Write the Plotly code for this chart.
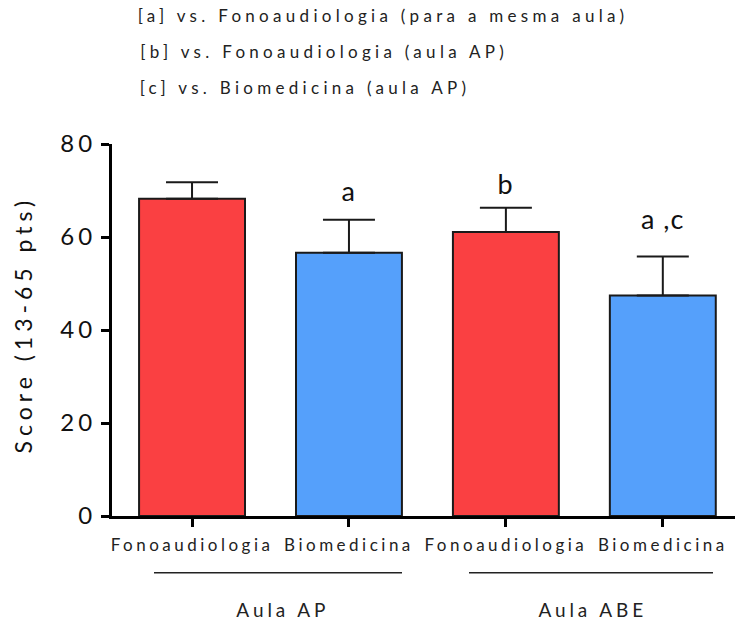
import json
import plotly.graph_objects as go

categories = ["Fonoaudiologia", "Biomedicina", "Fonoaudiologia", "Biomedicina"]
groups = ["Aula AP", "Aula ABE"]
means = [68.2, 56.6, 61.1, 47.4]
errors = [3.6, 7.1, 5.2, 8.4]
letters = ["", "a", "b", "a ,c"]
letter_y = [None, 70.0, 71.4, 63.9]
colors = ["#FA4042", "#55A0FB", "#FA4042", "#55A0FB"]
legend_lines = [
    "[a] vs. Fonoaudiologia (para a mesma aula)",
    "[b] vs. Fonoaudiologia (aula AP)",
    "[c] vs. Biomedicina (aula AP)",
]
y_title = "Score (13-65 pts)"
yticks = [0, 20, 40, 60, 80]

FONT = "Lato"
xs = list(range(len(categories)))

W, H = 735, 621
PL, PR, PT, PB = 112, 735, 144, 516   # plot area in page pixels


def px_x(p):
    return (p - PL) / (PR - PL)


def px_y(p):
    return (PB - p) / (PB - PT)


fig = go.Figure()
fig.add_trace(go.Bar(
    x=xs, y=means, width=0.675,
    marker=dict(color=colors, line=dict(color="#1a1a1a", width=2)),
    error_y=dict(type="data", array=errors, arrayminus=[0] * len(errors),
                 symmetric=False, color="#1a1a1a", thickness=2, width=26),
    showlegend=False, hoverinfo="skip",
))

spacing = {}
annotations = []
for i, (t, ly) in enumerate(zip(letters, letter_y)):
    if t:
        annotations.append(dict(x=xs[i], y=ly, xref="x", yref="y", text=t, showarrow=False,
                                font=dict(family=FONT, size=27, color="#111"),
                                xanchor="center", yanchor="middle"))
        spacing[t] = "1px"
legend_cx = [383, 324, 304.5]
legend_cy = [15, 51, 88]
for line, cx, cy in zip(legend_lines, legend_cx, legend_cy):
    annotations.append(dict(x=px_x(cx), y=px_y(cy), xref="paper", yref="paper", text=line,
                            showarrow=False, xanchor="center", yanchor="middle",
                            font=dict(family=FONT, size=17, color="#222")))
    spacing[line] = "4.3px"
group_cx = [283, 593]
for g, gx in zip(groups, group_cx):
    annotations.append(dict(x=px_x(gx), y=px_y(609), xref="paper", yref="paper", text=g,
                            showarrow=False, xanchor="center", yanchor="middle",
                            font=dict(family=FONT, size=19, color="#222")))
    spacing[g] = "3.9px"
annotations.append(dict(x=px_x(23), y=px_y(325), xref="paper", yref="paper", text=y_title,
                        textangle=-90, showarrow=False, xanchor="center", yanchor="middle",
                        font=dict(family=FONT, size=23, color="#111")))
spacing[y_title] = "5px"

gl_y = px_y(572.7)
shapes = [
    dict(type="line", xref="paper", yref="paper", x0=px_x(154), x1=px_x(402), y0=gl_y, y1=gl_y,
         line=dict(color="#222", width=1.5)),
    dict(type="line", xref="paper", yref="paper", x0=px_x(469), x1=px_x(713), y0=gl_y, y1=gl_y,
         line=dict(color="#222", width=1.5)),
]

fig.update_layout(
    width=W, height=H,
    margin=dict(l=PL, r=W - PR, t=PT, b=H - PB),
    plot_bgcolor="white", paper_bgcolor="white",
    font=dict(family=FONT, color="#111"),
    bargap=0,
    annotations=annotations,
    shapes=shapes,
    xaxis=dict(range=[-0.51, 3.46], tickmode="array", tickvals=xs, ticktext=categories,
               showline=True, linecolor="black", linewidth=3, ticks="outside",
               ticklen=8, tickwidth=3, tickcolor="black", showgrid=False, zeroline=False,
               ticklabelstandoff=4,
               tickfont=dict(family=FONT, size=17, color="#222")),
    yaxis=dict(range=[0, 80], tickvals=yticks, showline=True, linecolor="black", linewidth=3,
               ticks="outside", ticklen=8, tickwidth=3, tickcolor="black", showgrid=False,
               zeroline=False, tickfont=dict(family=FONT, size=24, color="#111")),
)

post = """
document.body.style.margin = '0';
document.body.style.overflow = 'hidden';
var gd = document.querySelector('.plotly-graph-div');
var map = %s;
gd.querySelectorAll('.xtick text').forEach(function(e){ e.style.letterSpacing = '3.5px'; });
gd.querySelectorAll('.ytick text').forEach(function(e){ e.style.letterSpacing = '4px'; });
gd.querySelectorAll('.annotation-text').forEach(function(e){
  var v = map[e.textContent]; if (v) { e.style.letterSpacing = v; }
});
""" % json.dumps(spacing)
fig.write_html("out.html", post_script=post, config={"displayModeBar": False, "staticPlot": True})
